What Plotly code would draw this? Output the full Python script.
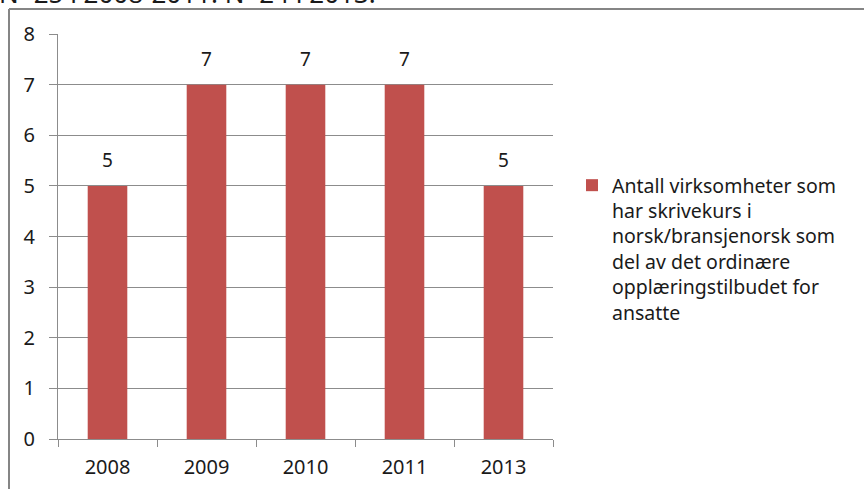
import plotly.graph_objects as go

# Data
years = ["2008", "2009", "2010", "2011", "2013"]
counts = [5, 7, 7, 7, 5]
series_name = ("Antall virksomheter som<br>har skrivekurs i<br>norsk/bransjenorsk som"
               "<br>del av det ordinære<br>opplæringstilbudet for<br>ansatte")
note_text = "N=25 i 2008-2011. N=24 i 2013."
y_ticks = [0, 1, 2, 3, 4, 5, 6, 7, 8]

BAR_COLOR = "#C0504D"
GRID = "#8C8C8C"
FONT = "Noto Sans"
TXT = "#1a1a1a"

W, H = 864, 489
L, R, T, B = 58, 311, 34, 50
plot_w = W - L - R
plot_h = H - T - B


def px_x(p):
    return (p - L) / plot_w


def px_y(p):
    return (H - B - p) / plot_h


fig = go.Figure()
fig.add_trace(go.Bar(
    x=years, y=counts, name=series_name,
    marker=dict(color=BAR_COLOR, line=dict(width=0)),
    showlegend=True,
))

# value labels above bars (category index positions)
for i, v in enumerate(counts):
    fig.add_annotation(x=i, y=v, xref="x", yref="y", text=str(v),
                       showarrow=False, yanchor="bottom", yshift=11,
                       font=dict(family=FONT, size=19, color=TXT))

# note above chart frame (partly cropped)
fig.add_annotation(xref="paper", yref="paper", x=px_x(-3), y=px_y(13),
                   xanchor="left", yanchor="bottom", showarrow=False,
                   text=note_text, font=dict(family=FONT, size=26, color=TXT))

# chart frame lines
frame = dict(color="#858585", width=2)
fig.add_shape(type="line", xref="paper", yref="paper",
              x0=px_x(9), x1=px_x(9), y0=px_y(9), y1=px_y(H + 5), line=frame)
fig.add_shape(type="line", xref="paper", yref="paper",
              x0=px_x(9), x1=px_x(W + 5), y0=px_y(9), y1=px_y(9), line=frame)

fig.update_layout(
    width=W, height=H,
    margin=dict(l=L, r=R, t=T, b=B, autoexpand=False),
    paper_bgcolor="white", plot_bgcolor="white",
    bargap=0.6,
    font=dict(family=FONT, size=18, color=TXT),
    legend=dict(xref="container", yref="container", x=572 / W, y=1 - 166 / H,
                xanchor="left", yanchor="top", valign="top",
                font=dict(family=FONT, size=19.5, color=TXT),
                itemwidth=30, tracegroupgap=0),
    xaxis=dict(type="category", range=[-0.5, 4.5], showline=True,
               linecolor=GRID, linewidth=1, automargin=False,
               ticks="outside", ticklen=7, tickcolor=GRID, tickson="boundaries",
               showgrid=False, ticklabelstandoff=10,
               tickfont=dict(family=FONT, size=20, color=TXT)),
    yaxis=dict(range=[0, 8], tickvals=y_ticks, showline=True, linecolor=GRID,
               linewidth=1, ticks="outside", ticklen=8, tickcolor=GRID,
               showgrid=True, gridcolor=GRID, gridwidth=1, zeroline=False,
               ticklabelstandoff=10, automargin=False,
               tickfont=dict(family=FONT, size=20, color=TXT)),
)

fig.write_html("out.html")
